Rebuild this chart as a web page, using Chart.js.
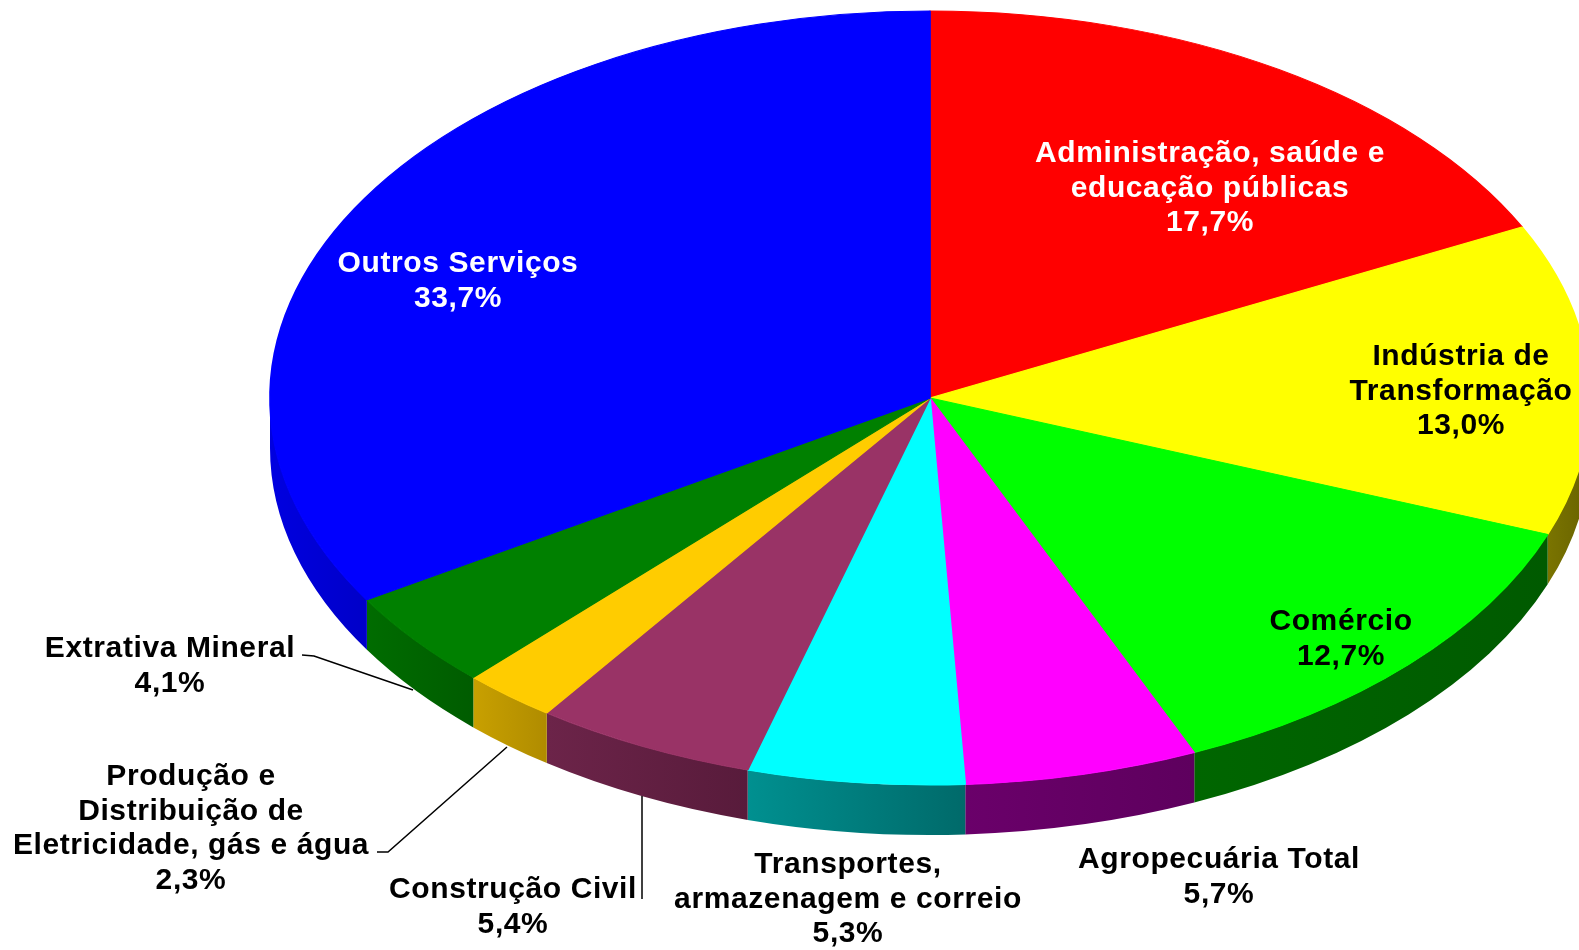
<!DOCTYPE html>
<html>
<head>
<meta charset="utf-8">
<script src="https://cdn.jsdelivr.net/npm/chart.js@4"></script>
<style>
  html, body { margin: 0; padding: 0; background: #fff; overflow: hidden; }
  canvas { display: block; }
</style>
</head>
<body>
<canvas id="chart" width="1579" height="950"></canvas>
<script>
// Sector names (each entry split into the lines it is printed on)
const categories = [
  ['Administração, saúde e', 'educação públicas'],
  ['Indústria de', 'Transformação'],
  ['Comércio'],
  ['Agropecuária Total'],
  ['Transportes,', 'armazenagem e correio'],
  ['Construção Civil'],
  ['Produção e', 'Distribuição de', 'Eletricidade, gás e água'],
  ['Extrativa Mineral'],
  ['Outros Serviços']
];

// Share of each sector, in percent
const shares = [17.7, 13.0, 12.7, 5.7, 5.3, 5.4, 2.3, 4.1, 33.7];

// Top-face colours and the [left, right] shades of each visible rim
const topColors = ['#ff0000', '#ffff00', '#00ff00', '#ff00ff', '#00ffff', '#993366', '#ffcc00', '#008000', '#0000ff'];
const sideColors = [
  ['#990000', '#800000'],
  ['#7a7400', '#686200'],
  ['#006600', '#005a00'],
  ['#6a006a', '#5e005e'],
  ['#009090', '#006a6a'],
  ['#6c2449', '#581b3b'],
  ['#c8a000', '#b08c00'],
  ['#006c00', '#005c00'],
  ['#0000e0', '#0000c8']
];
const textColors = ['#ffffff', '#000000', '#000000', '#000000', '#000000', '#000000', '#000000', '#000000', '#ffffff'];

// Label anchors: centre x and baseline of the first line
const labelAnchors = [[1210, 162], [1461, 365], [1341, 630], [1219, 868], [848, 873], [513, 898], [191, 785], [170, 657], [458, 272]];
// Leader lines for the labels placed outside the pie
const leaderLines = [null, null, null, null, null,
  [[642, 899], [642, 796]],
  [[377, 852], [388, 852], [507, 747]],
  [[302, 655], [314, 656], [413, 690]],
  null];

const W = 1579, H = 950;
const CX = 930, CY = 398;   // pie centre
const RY = 387;             // vertical semi-axis of the tilted top face
const RX = 660;             // horizontal semi-axis
const SX = RX / RY;
const DEPTH = 50;           // thickness of the rim
const LINE_H = 34.5;

const fmt = v => v.toFixed(1).replace('.', ',') + '%';

const pie3d = {
  id: 'pie3d',
  beforeDatasetsDraw(chart) {
    const ctx = chart.ctx;
    const meta = chart.getDatasetMeta(0);
    // rim of the slices that face the viewer (angles 0..PI in canvas space)
    meta.data.forEach((arc, i) => {
      const p = arc.getProps(['startAngle', 'endAngle', 'x', 'y', 'outerRadius'], true);
      const ry = p.outerRadius, rx = p.outerRadius * SX;
      const a0 = Math.max(p.startAngle, 0);
      const a1 = Math.min(p.endAngle, Math.PI);
      if (a1 <= a0) return;
      const xl = p.x + rx * Math.cos(a1), xr = p.x + rx * Math.cos(a0);
      const g = ctx.createLinearGradient(Math.min(xl, xr), 0, Math.max(xl, xr) + 0.01, 0);
      g.addColorStop(0, sideColors[i][0]);
      g.addColorStop(1, sideColors[i][1]);
      ctx.beginPath();
      ctx.ellipse(p.x, p.y, rx, ry, 0, a0, a1, false);
      ctx.ellipse(p.x, p.y + DEPTH, rx, ry, 0, a1, a0, true);
      ctx.closePath();
      ctx.fillStyle = g;
      ctx.fill();
    });
    // stretch the flat pie horizontally into the tilted top face
    const c = meta.data[0];
    ctx.save();
    ctx.translate(c.x, c.y);
    ctx.scale(SX, 1);
    ctx.translate(-c.x, -c.y);
  },
  afterDatasetsDraw(chart) {
    const ctx = chart.ctx;
    ctx.restore();

    ctx.save();
    ctx.strokeStyle = '#000';
    ctx.lineWidth = 1.5;
    leaderLines.forEach(pts => {
      if (!pts) return;
      ctx.beginPath();
      pts.forEach((pt, k) => k ? ctx.lineTo(pt[0], pt[1]) : ctx.moveTo(pt[0], pt[1]));
      ctx.stroke();
    });

    ctx.font = 'bold 30px "Liberation Sans", Arial, sans-serif';
    ctx.letterSpacing = '0.6px';
    ctx.textAlign = 'center';
    ctx.textBaseline = 'alphabetic';
    categories.forEach((lines, i) => {
      const all = lines.concat([fmt(shares[i])]);
      const [x, y] = labelAnchors[i];
      ctx.fillStyle = textColors[i];
      all.forEach((t, k) => ctx.fillText(t, x, y + k * LINE_H));
    });
    ctx.restore();
  }
};

new Chart(document.getElementById('chart'), {
  type: 'pie',
  data: {
    labels: categories,
    datasets: [{
      data: shares,
      backgroundColor: topColors,
      borderColor: topColors,
      borderWidth: 1,
      hoverOffset: 0,
      offset: 0,
      clip: false
    }]
  },
  options: {
    responsive: false,
    animation: false,
    events: [],
    radius: RY,
    layout: { padding: { left: CX - RY, right: W - CX - RY, top: CY - RY, bottom: H - CY - RY } },
    plugins: { legend: { display: false }, tooltip: { enabled: false } }
  },
  plugins: [pie3d]
});
</script>
</body>
</html>
